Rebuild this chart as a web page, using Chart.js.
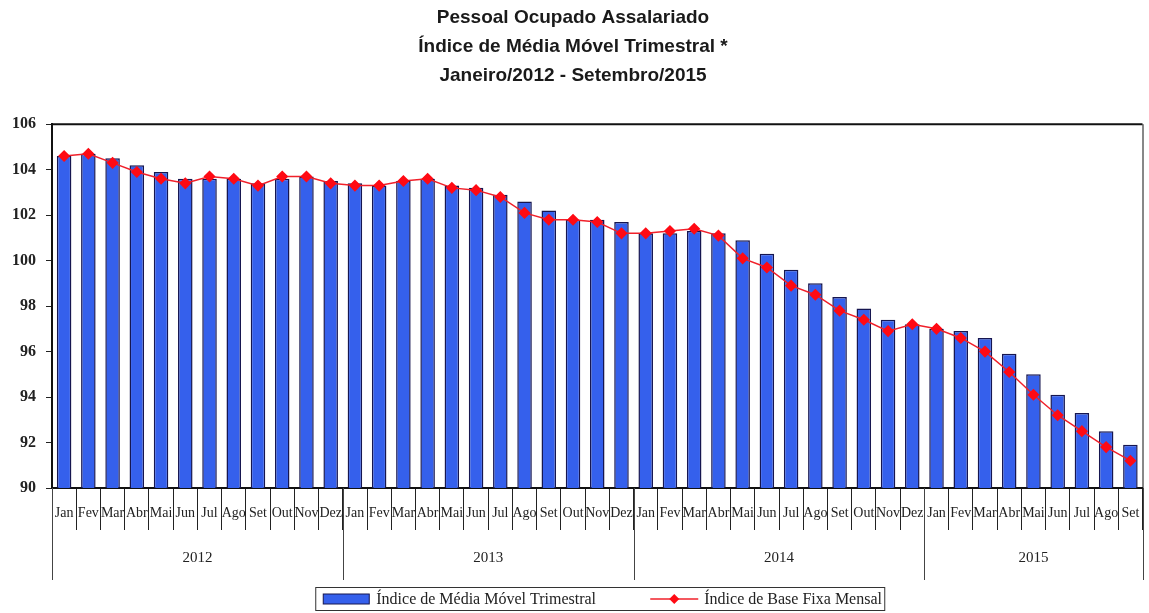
<!DOCTYPE html>
<html lang="pt">
<head>
<meta charset="UTF-8">
<title>Pessoal Ocupado Assalariado</title>
<style>
    body { margin: 0; background: #fff; }
    canvas { display: block; }
</style>
<script src="https://cdn.jsdelivr.net/npm/chart.js"></script>
</head>
<body>

<canvas id="chart" width="1149" height="613"></canvas>

<script>
const monthNames = ["Jan", "Fev", "Mar", "Abr", "Mai", "Jun", "Jul", "Ago", "Set", "Out", "Nov", "Dez"];
const years = ["2012", "2013", "2014", "2015"];
const monthsPerYear = [12, 12, 12, 9];

// Índice de Média Móvel Trimestral (barras)
const mediaMovel = [
    104.6, 104.7, 104.5, 104.2, 103.9, 103.6, 103.6, 103.6, 103.4, 103.6, 103.7, 103.5,
    103.4, 103.3, 103.5, 103.6, 103.3, 103.2, 102.9, 102.6, 102.2, 101.8, 101.8, 101.7,
    101.2, 101.2, 101.3, 101.2, 100.9, 100.3, 99.6, 99.0, 98.4, 97.9, 97.4, 97.2,
    97.0, 96.9, 96.6, 95.9, 95.0, 94.1, 93.3, 92.5, 91.9
];

// Índice de Base Fixa Mensal (linha)
const baseFixa = [
    104.6, 104.7, 104.3, 103.9, 103.6, 103.4, 103.7, 103.6, 103.3, 103.7, 103.7, 103.4,
    103.3, 103.3, 103.5, 103.6, 103.2, 103.1, 102.8, 102.1, 101.8, 101.8, 101.7, 101.2,
    101.2, 101.3, 101.4, 101.1, 100.1, 99.7, 98.9, 98.5, 97.8, 97.4, 96.9, 97.2,
    97.0, 96.6, 96.0, 95.1, 94.1, 93.2, 92.5, 91.8, 91.2
];

const labels = [];
monthsPerYear.forEach(n => {
    for (let i = 0; i < n; i++) labels.push(monthNames[i]);
});

const serif = "'Liberation Serif', serif";
const narrow = "'Liberation Sans Narrow', 'Liberation Sans', sans-serif";

// moldura, separadores de ano e legenda
const extras = {
    id: "extras",
    afterDraw(chart) {
        const { ctx, chartArea: a, scales: { x } } = chart;
        ctx.save();
        ctx.strokeStyle = "#111";
        ctx.lineWidth = 2;
        ctx.beginPath();
        ctx.moveTo(a.left, a.top);
        ctx.lineTo(a.right, a.top);
        ctx.stroke();
        ctx.lineWidth = 1;
        ctx.beginPath();
        ctx.moveTo(a.right + 0.5, a.top);
        ctx.lineTo(a.right + 0.5, a.bottom);
        ctx.stroke();

        // separadores e rótulos dos anos
        const half = (x.getPixelForValue(1) - x.getPixelForValue(0)) / 2;
        ctx.strokeStyle = "#444";
        ctx.fillStyle = "#222";
        ctx.font = "15px " + serif;
        ctx.textAlign = "center";
        ctx.textBaseline = "middle";
        let start = 0;
        years.forEach((yr, i) => {
            const end = start + monthsPerYear[i] - 1;
            const l = x.getPixelForValue(start) - half;
            const r = x.getPixelForValue(end) + half;
            [l, r].forEach(px => {
                ctx.beginPath();
                ctx.moveTo(Math.round(px) + 0.5, a.bottom);
                ctx.lineTo(Math.round(px) + 0.5, a.bottom + 92);
                ctx.stroke();
            });
            ctx.fillText(yr, (l + r) / 2, a.bottom + 70);
            start = end + 1;
        });

        // legenda
        const bars = chart.data.datasets.find(d => d.type === "bar");
        const line = chart.data.datasets.find(d => d.type === "line");
        const cx = (a.left + a.right) / 2 + 3;
        const ly = a.bottom + 111;
        ctx.strokeStyle = "#333";
        ctx.lineWidth = 1;
        ctx.strokeRect(cx - 284.5, ly - 11.5, 569, 23);
        ctx.fillStyle = bars.backgroundColor;
        ctx.fillRect(cx - 277, ly - 5, 46, 10);
        ctx.strokeStyle = bars.borderColor;
        ctx.strokeRect(cx - 277, ly - 5, 46, 10);
        ctx.strokeStyle = line.borderColor;
        ctx.lineWidth = 1.5;
        ctx.beginPath();
        ctx.moveTo(cx + 50, ly);
        ctx.lineTo(cx + 98, ly);
        ctx.stroke();
        ctx.fillStyle = line.pointBackgroundColor;
        ctx.beginPath();
        ctx.moveTo(cx + 74, ly - 5);
        ctx.lineTo(cx + 79, ly);
        ctx.lineTo(cx + 74, ly + 5);
        ctx.lineTo(cx + 69, ly);
        ctx.closePath();
        ctx.fill();
        ctx.fillStyle = "#222";
        ctx.font = "16px " + serif;
        ctx.textAlign = "left";
        ctx.fillText(bars.label, cx - 224, ly + 1);
        ctx.fillText(line.label, cx + 104, ly + 1);
        ctx.restore();
    }
};

new Chart(document.getElementById("chart"), {
    data: {
        labels: labels,
        datasets: [
            {
                type: "line",
                label: "Índice de Base Fixa Mensal",
                data: baseFixa,
                borderColor: "#f0202a",
                borderWidth: 1.5,
                pointStyle: "rectRot",
                pointRadius: 5,
                pointBackgroundColor: "#ff0a14",
                pointBorderColor: "#ff0a14",
                tension: 0,
                order: 0
            },
            {
                type: "bar",
                label: "Índice de Média Móvel Trimestral",
                data: mediaMovel,
                backgroundColor: "#3560ec",
                borderColor: "#161650",
                borderWidth: 1.5,
                categoryPercentage: 1,
                barPercentage: 0.6,
                order: 1
            }
        ]
    },
    options: {
        responsive: false,
        devicePixelRatio: 1,
        animation: false,
        layout: { padding: { left: 0, right: 3, top: 0, bottom: 25 } },
        plugins: {
            legend: { display: false },
            tooltip: { enabled: false },
            title: {
                display: true,
                text: ["Pessoal Ocupado Assalariado", "Índice de Média Móvel Trimestral *", "Janeiro/2012 - Setembro/2015"],
                color: "#1a1a1a",
                font: { family: narrow, weight: "bold", size: 19, lineHeight: 1.53 },
                padding: { top: 3, bottom: 34 }
            }
        },
        scales: {
            x: {
                offset: true,
                grid: { offset: true, drawOnChartArea: false, tickLength: 42, color: "#222", lineWidth: 1 },
                border: { display: true, color: "#111", width: 2 },
                ticks: {
                    autoSkip: false,
                    maxRotation: 0,
                    padding: -25,
                    color: "#222",
                    font: { family: serif, size: 14 }
                },
                afterFit(scale) { scale.height = 100; }
            },
            y: {
                min: 90,
                max: 106,
                ticks: {
                    stepSize: 2,
                    padding: 10,
                    color: "#222",
                    font: { family: serif, size: 16, weight: "bold" }
                },
                grid: { drawOnChartArea: false, tickLength: 6, color: "#222" },
                border: { display: true, color: "#111", width: 2 },
                afterFit(scale) { scale.width = 52; }
            }
        }
    },
    plugins: [extras]
});
</script>

</body>
</html>
